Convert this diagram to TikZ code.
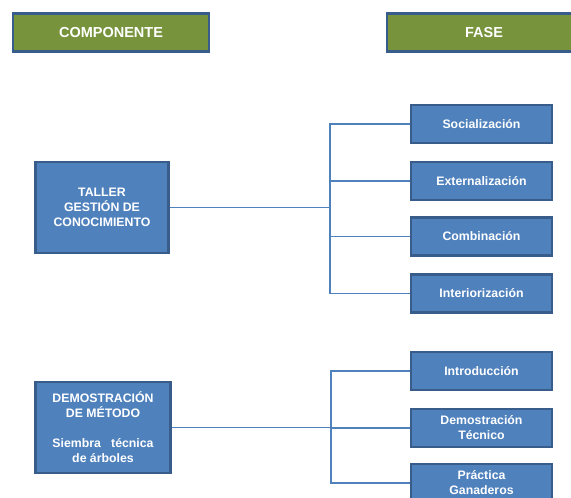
\documentclass[tikz,border=0pt]{standalone}
\usepackage{fontspec}
\setmainfont{Liberation Sans}
\definecolor{hdrgreen}{HTML}{77933C}
\definecolor{boxblue}{HTML}{4F81BD}
\definecolor{bordc}{HTML}{385D8A}
\definecolor{linec}{HTML}{4F81BD}
\begin{document}
\begin{tikzpicture}[x=1pt,y=-1pt,
 hdr/.style={draw=bordc, line width=2.5pt, fill=hdrgreen, text=white, font=\bfseries\fontsize{14.5}{17}\selectfont, minimum height=38pt, inner sep=0pt},
 box/.style={draw=bordc, line width=2.5pt, fill=boxblue, text=white, font=\bfseries\fontsize{12.3}{15}\selectfont, align=center, inner sep=0pt, minimum width=141pt, minimum height=38pt},
 bigbox/.style={box, minimum width=133pt, minimum height=91pt},
 link/.style={draw=linec, line width=1.5pt}]
\useasboundingbox (0,0) rectangle (571,498);
\clip (0,0) rectangle (571,498);
\fill[white] (0,0) rectangle (571,498);
% headers
\node[hdr, minimum width=196pt] (hcomp) at (111,32.5) {COMPONENTE};
\node[hdr, minimum width=194pt] (hfase) at (484,32.5) {FASE};
% components
\node[bigbox] (taller) at (102,207.5) {TALLER\\GESTIÓN DE\\CONOCIMIENTO};
\node[bigbox, minimum width=135pt] (demo) at (103,427.5) {DEMOSTRACIÓN\\DE MÉTODO\\[15pt]Siembra\ \ \ técnica\\de árboles};
% phases
\node[box] (soc) at (481.5,124) {Socialización};
\node[box] (ext) at (481.5,181) {Externalización};
\node[box] (comb) at (481.5,236.5) {Combinación};
\node[box] (inte) at (481.5,293.5) {Interiorización};
\node[box] (intro) at (481.5,371) {Introducción};
\node[box] (dt) at (481.5,428) {Demostración\\Técnico};
\node[box] (prac) at (481.5,483) {Práctica\\Ganaderos};
% junctions
\coordinate (j1) at (330,207.5);
\coordinate (j2) at (331,427.5);
\draw[link] (taller.east) -- (j1);
\draw[link] (soc.west) -- (soc.west -| j1) -- (inte.west -| j1) -- (inte.west);
\draw[link] (ext.west) -- (ext.west -| j1);
\draw[link] (comb.west) -- (comb.west -| j1);
\draw[link] (demo.east) -- (j2);
\draw[link] (intro.west) -- (intro.west -| j2) -- (prac.west -| j2) -- (prac.west);
\draw[link] (dt.west) -- (dt.west -| j2);
\end{tikzpicture}
\end{document}
